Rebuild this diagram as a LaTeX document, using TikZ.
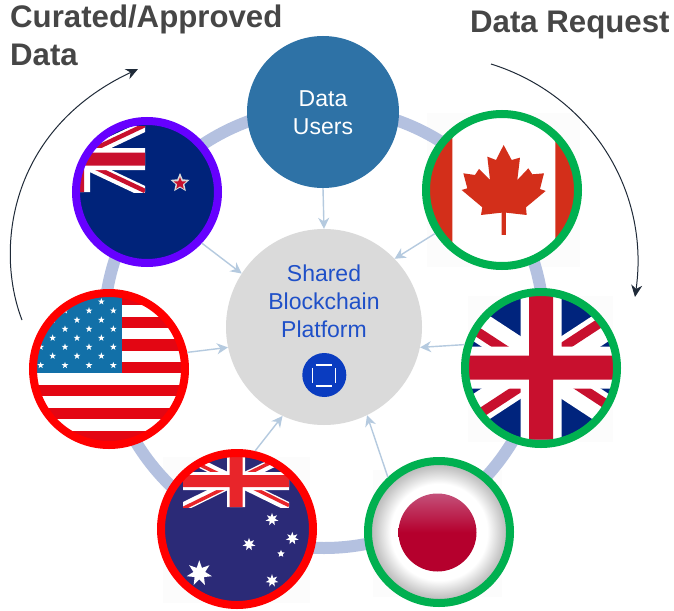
\documentclass[tikz,border=0pt]{standalone}
\usepackage{fontspec}
\setmainfont{Liberation Sans}
\usetikzlibrary{arrows.meta}
\definecolor{ringc}{HTML}{B4C1E0}
\definecolor{linkc}{HTML}{B5CADF}
\definecolor{headc}{HTML}{464646}
\definecolor{arcc}{HTML}{1F2A38}
\definecolor{okgreen}{HTML}{00B050}
\definecolor{flagredring}{HTML}{FF0000}
\definecolor{nzring}{HTML}{6600FF}
\definecolor{usersc}{HTML}{2E72A6}
\definecolor{sharedc}{HTML}{DADADA}
\definecolor{sharedtxt}{HTML}{1F50C8}
\definecolor{iconc}{HTML}{0A3CC0}
\definecolor{ukblue}{HTML}{00247D}
\definecolor{ukred}{HTML}{C8102E}
\definecolor{nzblue}{HTML}{00237A}
\definecolor{ausblue}{HTML}{2B2A77}
\definecolor{ausred}{HTML}{E8252A}
\definecolor{canred}{HTML}{D32F1A}
\definecolor{usred}{HTML}{E30613}
\definecolor{usblue}{HTML}{1270A8}
\definecolor{hatch}{HTML}{FCFCFC}
\definecolor{jpred}{HTML}{B5002D}
\definecolor{jptop}{HTML}{C4507A}
\pgfdeclareradialshading{jpglow}{\pgfpoint{0bp}{0bp}}{color(0bp)=(white);color(17bp)=(white);color(22.5bp)=(black!22);color(25bp)=(black!30);color(50bp)=(black!30)}
\tikzset{
  flagring/.style={circle,draw=#1,line width=8pt,minimum size=152pt,inner sep=0pt,fill=none},
  link/.style={draw=linkc,line width=1.4pt,-{Stealth[length=11pt,width=11pt]}},
  bigarc/.style={draw=arcc,line width=1pt,-{Stealth[length=12pt,width=11pt]}},
  headtxt/.style={anchor=base west,text=headc,inner sep=0pt,font=\bfseries\fontsize{31.2}{36}\selectfont},
  bodytxt/.style={align=center,inner sep=0pt,font=\fontsize{23}{28}\selectfont}
}
% star: x, y, outer R, inner r, points, colour
\newcommand\pstar[6]{%
  \pgfmathtruncatemacro\pstarn{2*#5-1}%
  \pgfmathsetmacro\pstara{180/#5}%
  \fill[#6,shift={(#1,#2)}] plot[samples at={0,...,\pstarn},variable=\k]
    ({\k*\pstara-90}:{#3*mod(\k+1,2)+#4*mod(\k,2)}) -- cycle;}
% union jack centred on the origin of the current scope
% hw, hh, white diagonal, red diagonal, red offset, white vert, white horiz, red vert, red horiz
\newcommand\ujack[9]{%
  \begin{scope}
    \clip (-#1,-#2) rectangle (#1,#2);
    \fill[jackblue] (-#1,-#2) rectangle (#1,#2);
    \draw[white,line width=#3pt] (-#1,-#2) -- (#1,#2) (-#1,#2) -- (#1,-#2);
    \begin{scope}\clip (-#1,-#2) rectangle (0,0);
      \draw[jackred,line width=#4pt] (-#1,-#2+#5) -- (0,#5);\end{scope}
    \begin{scope}\clip (#1,-#2) rectangle (0,0);
      \draw[jackred,line width=#4pt] (#1,-#2-#5) -- (0,-#5);\end{scope}
    \begin{scope}\clip (#1,#2) rectangle (0,0);
      \draw[jackred,line width=#4pt] (#1,#2-#5) -- (0,-#5);\end{scope}
    \begin{scope}\clip (-#1,#2) rectangle (0,0);
      \draw[jackred,line width=#4pt] (-#1,#2+#5) -- (0,#5);\end{scope}
    \fill[white] (-#6,-#2) rectangle (#6,#2) (-#1,-#7) rectangle (#1,#7);
    \fill[jackred] (-#8,-#2) rectangle (#8,#2) (-#1,-#9) rectangle (#1,#9);
  \end{scope}}
\begin{document}
\begin{tikzpicture}[x=1pt,y=-1pt]
\useasboundingbox (0,0) rectangle (674,610);
\fill[white] (0,0) rectangle (674,610);
% faint image backgrounds
\fill[hatch] (427,113) rectangle (580,267);
\fill[hatch] (468,296) rectangle (613,442);
\fill[hatch] (373,470) rectangle (502,597);
\fill[hatch] (163,457) rectangle (310,603);
% ring
\draw[ringc,line width=12pt] (324,328) circle (220);

% New Zealand
\begin{scope}
  \clip (147,192) circle (68);
  \fill[nzblue] (70,110) rectangle (225,270);
  \colorlet{jackblue}{nzblue}\colorlet{jackred}{ukred}
  \begin{scope}[shift={(75,159)}]
    \ujack{70}{33}{11}{4.5}{1}{15}{11}{9}{6.5}
  \end{scope}
  \pstar{180}{183}{10}{4.6}{5}{black!15}
  \pstar{180}{183.5}{6.5}{2.8}{5}{ukred}
\end{scope}

% Canada
\begin{scope}
  \clip (502,190) circle (74);
  \fill[white] (425,110) rectangle (580,270);
  \fill[canred] (425,110) rectangle (452.3,270) (555.3,110) rectangle (580,270);
  \begin{scope}[shift={(400,90)},x=0.3333pt,y=-0.3333pt]
    \fill[canred] (311,165) -- (335,210) -- (360,203) -- (352,270) -- (385,235) -- (397,253) -- (432,250) -- (420,297) -- (437,303) -- (378,352) -- (380,375) -- (318,368) -- (318,435) -- (305,435) -- (305,368) -- (243,375) -- (247,352) -- (185,300) -- (202,295) -- (190,250) -- (225,255) -- (237,237) -- (270,270) -- (262,200) -- (288,210) -- cycle;
  \end{scope}
\end{scope}

% United Kingdom
\begin{scope}
  \clip (541,368) circle (74);
  \fill[white] (465,290) rectangle (620,445);
  \colorlet{jackblue}{ukblue}\colorlet{jackred}{ukred}
  \begin{scope}[shift={(541,367.5)}]
    \ujack{110}{72}{30}{9.5}{6}{20.5}{21}{12}{12}
  \end{scope}
\end{scope}

% Japan
\begin{scope}
  \clip (439,532) circle (71);
  \shade[shading=jpglow] (439,532) circle (71);
  \shade[top color=jptop,bottom color=jpred,middle color=jpred] (437.5,532.5) circle (39);
\end{scope}

% Australia
\begin{scope}
  \clip (237,529) circle (74);
  \fill[ausblue] (160,450) rectangle (315,610);
  \colorlet{jackblue}{ausblue}\colorlet{jackred}{ausred}
  \begin{scope}[shift={(236,481)}]
    \ujack{53}{26}{9}{3.5}{1.5}{9}{9}{6.5}{6}
  \end{scope}
  \pstar{272}{519.3}{6.5}{3}{7}{white}
  \pstar{292.3}{538.3}{6.5}{3}{7}{white}
  \pstar{249}{544.3}{6.5}{3}{7}{white}
  \pstar{281}{553.7}{3.8}{1.8}{5}{white}
  \pstar{272}{580.7}{6.5}{3}{7}{white}
  \pstar{199.3}{573.3}{13}{6}{7}{white}
\end{scope}

% United States
\begin{scope}
  \clip (109,369) circle (74);
  \fill[white] (30,290) rectangle (190,450);
  \foreach \sy in {294,316.7,339.3,361.7,384.7,407.7,430.7}{
    \fill[usred] (30,\sy) rectangle (190,\sy+11.2);}
  \fill[usblue] (30,285) rectangle (121.7,373.3);
  \begin{scope}[shift={(20,220)},x=0.3333pt,y=-0.3333pt]
    \foreach \px/\py in {62/436,135/436,207/436,280/436,98/408,171/408,244/408,62/381,135/381,207/381,280/381,98/354,171/354,244/354,135/327,207/327,280/327,98/300,171/300,244/300,135/272,207/272,280/272,244/245}{
      \pstar{\px}{\py}{10.5}{4.2}{5}{white}}
  \end{scope}
\end{scope}

% main circles
\node[circle,fill=usersc,minimum size=152pt,inner sep=0pt] (users) at (323,112) {};
\node[circle,fill=sharedc,minimum size=196pt,inner sep=0pt] (shared) at (324,327) {};
\node[flagring=nzring,minimum size=142pt] (nz) at (147,192) {};
\node[flagring=okgreen] (canada) at (502,190) {};
\node[flagring=okgreen] (uk) at (541,368) {};
\node[flagring=okgreen,minimum size=142pt] (japan) at (439,532) {};
\node[flagring=flagredring] (australia) at (237,529) {};
\node[flagring=flagredring] (usa) at (109,369) {};

% connectors
\draw[link] (users.south) -- (shared.north);
\draw[link] (nz.-43) -- (shared.147);
\draw[link] (canada.213) -- (shared.44);
\draw[link] (uk.163) -- (shared.-12.5);
\draw[link] (japan.133) -- (shared.-64.5);
\draw[link] (australia.77) -- (shared.-115);
\draw[link] (usa.12.5) -- (shared.192);

% labels
\node[bodytxt,text=white] (userstxt) at (323,113) {Data\\Users};
\node[bodytxt,text=sharedtxt] (sharedtxt) at (324,301) {Shared\\Blockchain\\Platform};

% icon
\node[circle,fill=iconc,minimum size=44pt,inner sep=0pt] (icon) at (324.3,375) {};
\draw[white,line width=1.7pt] (315.7,365) -- (331.7,365) (315.7,386) -- (331.7,386) (312.6,368) -- (312.6,383) (335.6,368) -- (335.6,383);

% headings
\node[headtxt] (curated) at (10,27.5) {Curated/Approved};
\node[headtxt] (curated2) at (10,65) {Data};
\node[headtxt] (request) at (470,33) {Data Request};

% flow arcs
\coordinate (ra) at (491,64);
\coordinate (rb) at (635,297);
\coordinate (la) at (22,320);
\coordinate (lb) at (138,69);
\draw[bigarc] (ra) .. controls (590,95) and (650,190) .. (rb);
\draw[bigarc] (la) .. controls (-5,250) and (8,130) .. (lb);
\end{tikzpicture}
\end{document}
